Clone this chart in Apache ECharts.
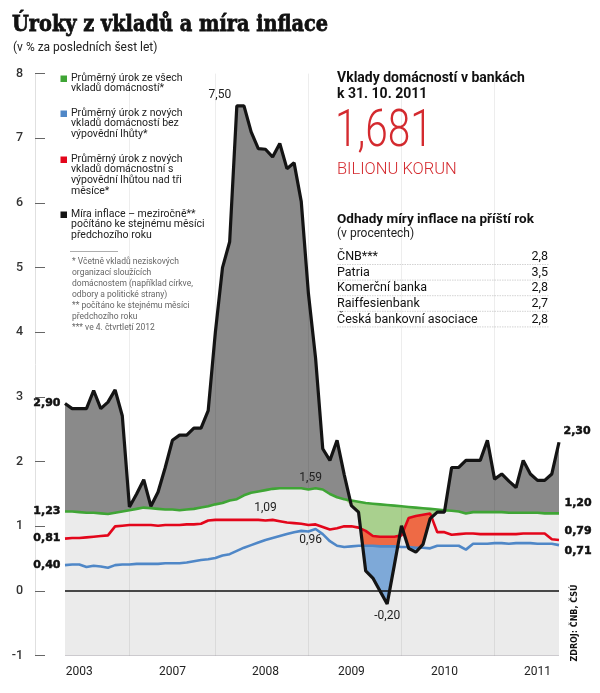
<!DOCTYPE html>
<html><head><meta charset="utf-8">
<script src="https://cdn.jsdelivr.net/npm/echarts@6/dist/echarts.min.js"></script>
<style>html,body{margin:0;padding:0;background:#fff}#c{width:600px;height:693px}</style>
</head><body><div id="c"></div>
<script>
// ---- data ----
const months = [
 '2006-01','2006-02','2006-03','2006-04','2006-05','2006-06','2006-07','2006-08','2006-09','2006-10','2006-11','2006-12',
 '2007-01','2007-02','2007-03','2007-04','2007-05','2007-06','2007-07','2007-08','2007-09','2007-10','2007-11','2007-12',
 '2008-01','2008-02','2008-03','2008-04','2008-05','2008-06','2008-07','2008-08','2008-09','2008-10','2008-11','2008-12',
 '2009-01','2009-02','2009-03','2009-04','2009-05','2009-06','2009-07','2009-08','2009-09','2009-10','2009-11','2009-12',
 '2010-01','2010-02','2010-03','2010-04','2010-05','2010-06','2010-07','2010-08','2010-09','2010-10','2010-11','2010-12',
 '2011-01','2011-02','2011-03','2011-04','2011-05','2011-06','2011-07','2011-08','2011-09','2011-10'];
const inflation = [
 2.90,2.82,2.82,2.82,3.10,2.82,2.92,3.11,2.71,1.30,
 1.50,1.72,1.31,1.53,1.91,2.33,2.41,2.41,2.52,2.52,
 2.79,4.00,5.00,5.40,7.50,7.50,7.10,6.84,6.83,6.71,
 6.92,6.53,6.62,6.02,4.60,3.60,2.20,2.02,2.33,1.80,
 1.32,1.22,0.31,0.20,0.00,-0.20,0.40,1.01,0.66,0.60,
 0.72,1.12,1.22,1.22,1.91,1.91,2.02,2.02,2.02,2.33,
 1.73,1.81,1.70,1.60,2.02,1.81,1.71,1.71,1.81,2.30];
const rateAll = [
 1.23,1.23,1.22,1.21,1.21,1.20,1.19,1.21,1.23,1.25,
 1.27,1.29,1.28,1.27,1.26,1.26,1.25,1.26,1.27,1.29,
 1.31,1.34,1.36,1.40,1.42,1.48,1.52,1.54,1.56,1.58,
 1.59,1.59,1.59,1.59,1.57,1.59,1.57,1.50,1.45,1.42,
 1.40,1.38,1.36,1.35,1.34,1.33,1.32,1.31,1.30,1.29,
 1.28,1.27,1.26,1.25,1.24,1.23,1.20,1.22,1.22,1.22,
 1.22,1.22,1.21,1.21,1.21,1.21,1.21,1.20,1.20,1.20];
const rateNoNotice = [
 0.40,0.41,0.41,0.37,0.39,0.38,0.36,0.40,0.41,0.41,
 0.42,0.42,0.42,0.42,0.43,0.43,0.43,0.44,0.46,0.48,
 0.49,0.51,0.55,0.57,0.62,0.67,0.71,0.75,0.79,0.82,
 0.85,0.88,0.91,0.93,0.92,0.96,0.88,0.77,0.70,0.68,
 0.69,0.70,0.70,0.70,0.69,0.69,0.69,0.68,0.68,0.67,
 0.67,0.66,0.70,0.70,0.70,0.70,0.64,0.73,0.73,0.73,
 0.74,0.74,0.73,0.74,0.74,0.74,0.73,0.73,0.73,0.71];
const rateNotice = [
 0.81,0.82,0.82,0.83,0.84,0.85,0.86,1.00,1.01,1.02,
 1.02,1.02,1.02,1.01,1.02,1.02,1.02,1.03,1.03,1.04,
 1.09,1.10,1.10,1.10,1.10,1.10,1.10,1.10,1.09,1.10,
 1.08,1.06,1.05,1.04,1.02,1.03,0.99,0.95,0.97,1.00,
 1.00,0.98,0.93,0.85,0.84,0.84,0.84,0.86,1.13,1.16,
 1.18,1.20,0.91,0.91,0.87,0.88,0.89,0.89,0.88,0.88,
 0.88,0.88,0.88,0.88,0.89,0.89,0.89,0.89,0.80,0.79];
const xTickMonths = ['2006-03','2007-04','2008-05','2009-05','2010-06','2011-07'];
const xTickLabels = ['2003','2007','2008','2009','2010','2011'];
const legendNames = [
 'Průměrný úrok ze všech\nvkladů domácností*',
 'Průměrný úrok z nových\nvkladů domácností bez\nvýpovědní lhůty*',
 'Průměrný úrok z nových\nvkladů domácnostní s\nvýpovědní lhůtou nad tři\nměsíce*',
 'Míra inflace – meziročně**\npočítáno ke stejnému měsíci\npředchozího roku'];
const footnote = '* Včetně vkladů neziskových\norganizací sloužících\ndomácnostem (například církve,\nodbory a politické strany)\n** počítáno ke stejnému měsíci\npředchozího roku\n*** ve 4. čtvrtletí 2012';
const forecastNames = ['ČNB***','Patria','Komerční banka','Raiffesienbank','Česká bankovní asociace'];
const forecastValues = [2.8, 3.5, 2.8, 2.7, 2.8];
const depositsValue = '1,681';

// ---- chart ----
const C = {green:'#3fa535', red:'#e3061b', blue:'#4f87c7', black:'#141414',
  greenFill:'#a9d08e', redFill:'#ee6a45', blueFill:'#7ea9d8', darkFill:'#8a8a8a', lightFill:'#ebebeb'};
const fmt = v => v.toFixed(2).replace('.', ',');
const boldLbl = {fontFamily:'DejaVu Sans', fontWeight:'bold', fontSize:11, color:'#111', textBorderColor:'#111', textBorderWidth:0.5};
const regLbl = {fontFamily:'Roboto', fontSize:12, color:'#222'};
function withLabels(values, lbls) {
  return values.map((v, i) => lbls[i] ? {
    value: v, symbol:'circle', symbolSize:1, itemStyle:{color:'rgba(0,0,0,0)'},
    label: Object.assign({show: true, formatter: p => fmt(p.value)}, lbls[i])} : v);
}
const last = months.length - 1;
const minLower = inflation.map((v, i) => Math.min(v, rateAll[i]));
const tickSet = {}; xTickMonths.forEach((m, i) => tickSet[m] = xTickLabels[i]);
const gridLineIdx = [9, 21, 34, 47, 60];

function area(name, data, color, z) {
  return {name, type:'line', data, z, symbol:'none', silent:true, lineStyle:{width:0},
    areaStyle:{color, opacity:1, origin:'start'}};
}
function line(name, data, color, width, z) {
  return {name, type:'line', data, z, symbol:'none', showSymbol:true, showAllSymbol:true, clip:false,
    silent:true, lineStyle:{color, width}, label:{show:false}};
}

const series = [
  area('a_infl', inflation, C.darkFill, 1),
  area('a_all', rateAll, C.greenFill, 2),
  area('a_notice', rateNotice, C.redFill, 3),
  area('a_nonotice', rateNoNotice, C.blueFill, 4),
  Object.assign(area('a_base', minLower, C.lightFill, 5), {
    markLine: {silent:true, symbol:'none', z:6, label:{show:false},
      lineStyle:{color:'rgba(0,0,0,0.07)', width:1, type:'solid'},
      data: gridLineIdx.map(i => ({xAxis: months[i]})).concat([{yAxis: 0, lineStyle:{color:'#111', width:1.5, type:'solid'}}])}
  }),
  line('Průměrný úrok ze všech vkladů', withLabels(rateAll, {
      0: Object.assign({position:'left', distance:4}, boldLbl),
      35: Object.assign({position:'top', distance:4, offset:[-5,0]}, regLbl),
      [last]: Object.assign({position:'right', distance:5, offset:[0,-10]}, boldLbl)}), C.green, 2.6, 7),
  line('Výpovědní lhůta', withLabels(rateNotice, {
      0: Object.assign({position:'left', distance:4}, boldLbl),
      28: Object.assign({position:'top', distance:6}, regLbl),
      [last]: Object.assign({position:'right', distance:5, offset:[0,-9]}, boldLbl)}), C.red, 2.6, 7),
  line('Bez výpovědní lhůty', withLabels(rateNoNotice, {
      0: Object.assign({position:'left', distance:4}, boldLbl),
      35: Object.assign({position:'bottom', distance:5, offset:[-5,0]}, regLbl),
      [last]: Object.assign({position:'right', distance:5, offset:[0,6]}, boldLbl)}), C.blue, 2.6, 7),
  line('Míra inflace', withLabels(inflation, {
      0: Object.assign({position:'left', distance:4}, boldLbl),
      24: Object.assign({position:'top', distance:4, offset:[-17,0]}, regLbl),
      45: Object.assign({position:'bottom', distance:6}, regLbl),
      [last]: Object.assign({position:'right', distance:4, offset:[0,-11]}, boldLbl)}), C.black, 3.2, 8)
];

const graphics = [];
// title
graphics.push({type:'text', x:12, y:25, scaleX:0.84, style:{text:'Úroky z vkladů a míra inflace', font:'bold 23px "DejaVu Serif"', fill:'#111', stroke:'#111', lineWidth:0.8, textVerticalAlign:'middle'}});
graphics.push({type:'text', x:13, y:48, style:{text:'(v % za posledních šest let)', font:'12px Roboto', fill:'#222', textVerticalAlign:'middle'}});
// legend
const legColors = [C.green, C.blue, C.red, C.black];
const legTops = [72.5, 107.5, 153.5, 208.5];
legendNames.forEach((t, i) => {
  graphics.push({type:'rect', shape:{x:60.5, y:legTops[i] + 3, width:6.5, height:6.5}, style:{fill:legColors[i]}});
  graphics.push({type:'text', x:71, y:legTops[i], style:{text:t, font:'10.5px Roboto', fill:'#222', lineHeight:10.9, textVerticalAlign:'top'}});
});
graphics.push({type:'line', shape:{x1:70, y1:251.5, x2:118, y2:251.5}, style:{stroke:'#999', lineWidth:0.8}});
graphics.push({type:'text', x:72, y:256.5, style:{text:footnote, font:'8.5px Roboto', fill:'#666', lineHeight:11, textVerticalAlign:'top'}});
// right panel
graphics.push({type:'text', x:337, y:71, style:{text:'Vklady domácností v bankách\nk 31. 10. 2011', font:'bold 14px Roboto', fill:'#111', lineHeight:15.5, textVerticalAlign:'top'}});
graphics.push({type:'text', x:335, y:133, scaleX:0.78, style:{text:depositsValue, font:'300 52px Roboto', fill:'#d42a2f', textVerticalAlign:'middle'}});
graphics.push({type:'text', x:337, y:170, style:{text:'BILIONU KORUN', font:'300 16.5px Roboto', fill:'#d42a2f', textVerticalAlign:'middle'}});
graphics.push({type:'text', x:337, y:219.5, style:{text:'Odhady míry inflace na příští rok', font:'bold 13.5px Roboto', fill:'#111', textVerticalAlign:'middle'}});
graphics.push({type:'text', x:337, y:234, style:{text:'(v procentech)', font:'12px Roboto', fill:'#222', textVerticalAlign:'middle'}});
forecastNames.forEach((n, i) => {
  const y = 257 + i * 15.6;
  graphics.push({type:'text', x:337, y, style:{text:n, font:'12.5px Roboto', fill:'#111', textVerticalAlign:'middle'}});
  graphics.push({type:'text', x:548, y, style:{text:forecastValues[i].toFixed(1).replace('.', ','), font:'12.5px Roboto', fill:'#111', textAlign:'right', textVerticalAlign:'middle'}});
  graphics.push({type:'line', shape:{x1:337, y1:y + 7.5, x2:549, y2:y + 7.5}, style:{stroke:'#c8c8c8', lineWidth:0.8, lineDash:[1.5,1]}});
});
// source
graphics.push({type:'text', x:575, y:623, rotation:Math.PI/2, style:{text:'ZDROJ: ČNB, ČSÚ', font:'bold 8px "DejaVu Sans"', fill:'#111', textAlign:'center', textVerticalAlign:'middle'}});

const chart = echarts.init(document.getElementById('c'), null, {renderer:'canvas'});
chart.setOption({
  animation:false,
  backgroundColor:'#fff',
  grid:{left:65, right:41, top:73.6, bottom:37.3, containLabel:false},
  xAxis:{type:'category', data:months, boundaryGap:false,
    axisLine:{show:false}, axisTick:{show:false}, splitLine:{show:false},
    axisLabel:{interval:(i, v) => tickSet[v] !== undefined, formatter:v => tickSet[v] || '',
      fontFamily:'Roboto', fontSize:12, color:'#222', margin:10}},
  yAxis:{type:'value', min:-1, max:8, interval:1, position:'left', offset:30,
    axisLine:{show:true, lineStyle:{color:'#e0e0e0', width:1}},
    axisTick:{show:true, inside:true, length:10, lineStyle:{color:'#666', width:1}},
    axisLabel:{margin:12, fontFamily:'Roboto', fontWeight:500, fontSize:12.5, color:'#333', formatter:v => String(v)},
    splitLine:{show:false}},
  series,
  graphic: graphics
});
</script>
</body></html>
